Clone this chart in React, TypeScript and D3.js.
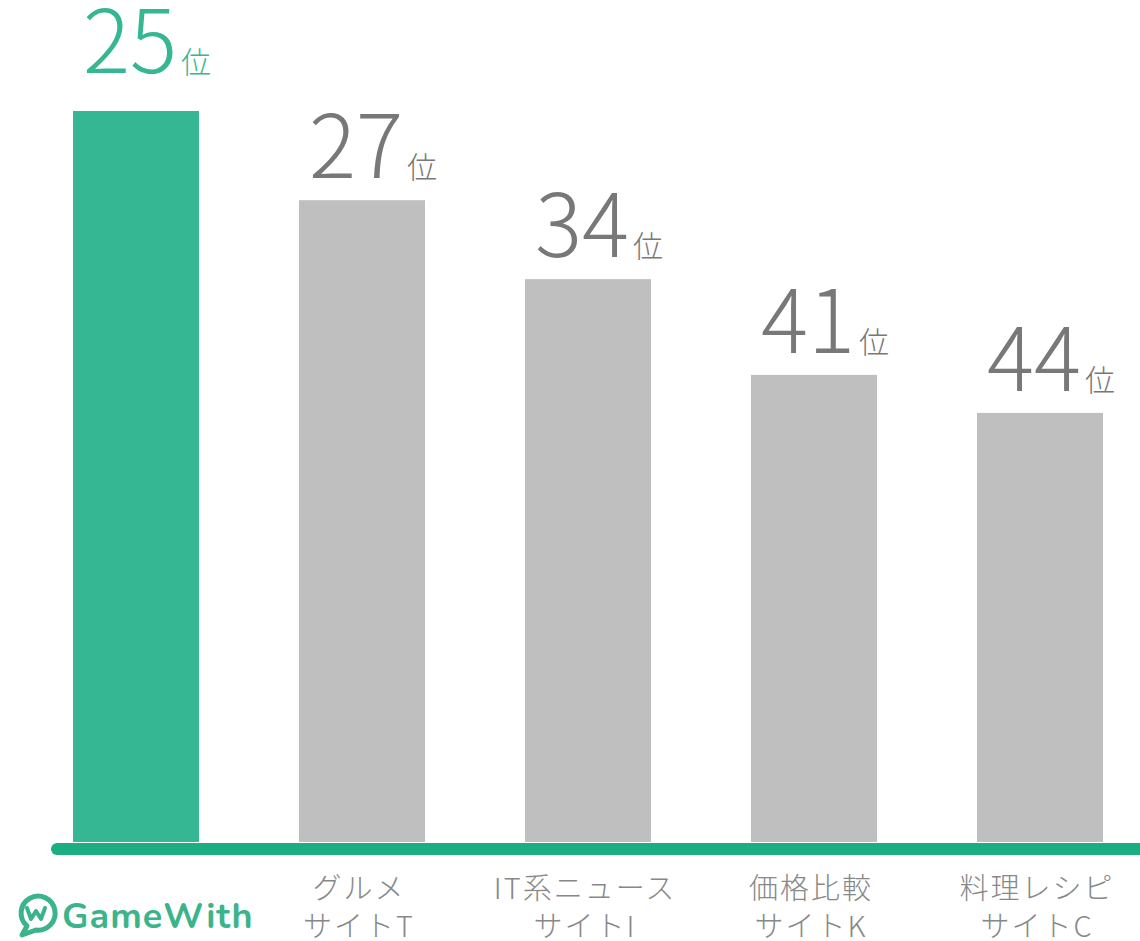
import React from "react";
import * as d3 from "d3";

const categories = ["GameWith", "グルメ\nサイトT", "IT系ニュース\nサイトI", "価格比較\nサイトK", "料理レシピ\nサイトC"];
const ranks = [25, 27, 34, 41, 44];
const barValues = [100, 87.8, 77.0, 63.9, 58.7];
const highlight = [true, false, false, false, false];

const W = 1140;
const H = 941;

export default function App() {
  const x = d3.scaleBand<string>().domain(categories).range([73, 1103]).paddingInner(100 / 226).paddingOuter(0);
  const y = d3.scaleLinear().domain([0, 100]).range([842, 111]);
  const green = "#35b794";
  const gray = "#bfbfbf";
  const jp = "'Noto Sans CJK JP', 'Noto Sans', sans-serif";

  return (
    <svg width={W} height={H} style={{ position: "absolute", left: 0, top: 0, background: "#fff" }}>
      {categories.map((c, i) => {
        const x0 = x(c)!;
        const bw = x.bandwidth();
        const cx = x0 + bw / 2;
        const top = y(barValues[i]);
        const hl = highlight[i];
        const lines = c.split("\n");
        return (
          <g key={c}>
            <rect x={x0} y={top} width={bw} height={y(0) - top} fill={hl ? green : gray} />
            <text
              x={cx + 11}
              y={top - (hl ? 38 : 22)}
              textAnchor="middle"
              fontFamily={jp}
              fontWeight={300}
              fill={hl ? green : "#787878"}
            >
              <tspan fontSize={88} letterSpacing={0}>{ranks[i]}</tspan>
              <tspan fontSize={30} dx={4}>位</tspan>
            </text>
            {!hl &&
              lines.map((l, j) => (
                <text
                  key={j}
                  x={cx - 3}
                  y={899 + j * 38}
                  textAnchor="middle"
                  fontFamily={jp}
                  fontWeight={300}
                  fontSize={29}
                  letterSpacing={2}
                  fill="#888"
                >
                  {l}
                </text>
              ))}
          </g>
        );
      })}
      <line x1={57} x2={1160} y1={849} y2={849} stroke="#1aae82" strokeWidth={12} strokeLinecap="round" />
      <g transform="translate(17,893)" fill="none" stroke="#3bb48c" strokeWidth={5} strokeLinecap="round" strokeLinejoin="round">
        <path d="M 10 33 A 17 17 0 1 1 19 37 L 5 42 Z" />
        <path d="M 10 15 L 14 26 L 19 18 L 24 26 L 28 15" strokeWidth={4} />
      </g>
      <text x={62} y={928} fontFamily="'Nunito', 'Lato', 'Open Sans', sans-serif" fontWeight={700} fontSize={36} fill="#3bb48c" letterSpacing={1}>
        GameWith
      </text>
    </svg>
  );
}
